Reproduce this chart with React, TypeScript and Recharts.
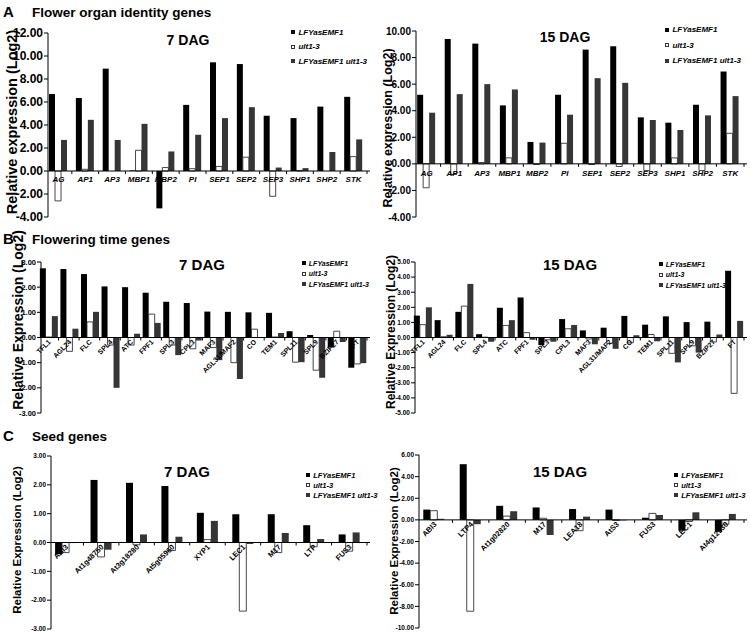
import React from 'react'
import { BarChart, Bar, XAxis, YAxis, ReferenceLine, Legend } from 'recharts'

const FONT = '"Liberation Sans", Arial, Helvetica, sans-serif'

// series
const SERIES = [
  { key: 'lfy', name: 'LFYasEMF1', fill: '#000000', stroke: 'none' },
  { key: 'ult', name: 'ult1-3', fill: '#ffffff', stroke: '#333333' },
  { key: 'dbl', name: 'LFYasEMF1 ult1-3', fill: '#363636', stroke: 'none' },
]

// A - flower organ identity genes
const flowerGenes = ['AG', 'AP1', 'AP3', 'MBP1', 'MBP2', 'PI', 'SEP1', 'SEP2', 'SEP3', 'SHP1', 'SHP2', 'STK']
const flower7Lfy = [6.7, 6.35, 8.9, 0.05, -3.25, 5.75, 9.45, 9.3, 4.8, 4.6, 5.6, 6.45]
const flower7Ult = [-2.6, 0.15, 0.0, 1.8, 0.3, 0.2, 0.4, 1.2, -2.2, 0.05, 0.0, 1.25]
const flower7Dbl = [2.7, 4.45, 2.7, 4.1, 1.7, 3.15, 4.6, 5.55, 0.3, 0.25, 1.65, 2.75]
const flower15Lfy = [5.2, 9.4, 9.05, 4.4, 1.65, 5.2, 8.6, 8.85, 3.5, 3.1, 4.45, 6.95]
const flower15Ult = [-1.8, -0.8, 0.1, 0.45, -0.05, 1.55, -0.05, -0.2, -0.5, 0.45, -0.5, 2.3]
const flower15Dbl = [3.85, 5.25, 6.0, 5.6, 1.6, 3.7, 6.45, 6.1, 3.3, 2.55, 3.65, 5.1]
const flower7Ticks = [-4, -2, 0, 2, 4, 6, 8, 10, 12]
const flower15Ticks = [-4, -2, 0, 2, 4, 6, 8, 10]

// B - flowering time genes
const timeGenes = ['TFL1', 'AGL24', 'FLC', 'SPL4', 'ATC', 'FPF1', 'SPL3', 'CPL3', 'MAF3', 'AGL31/MAF2', 'CO', 'TEM1', 'SPL11', 'SPL9', 'BZIP27', 'FT']
const time7Lfy = [2.75, 2.72, 2.52, 2.03, 2.0, 1.78, 1.42, 1.37, 1.03, 1.02, 1.0, 0.98, 0.25, 0.1, -0.4, -1.2]
const time7Ult = [0.02, -0.55, 0.62, -0.3, -0.3, 0.93, -0.3, -0.45, -0.4, -1.0, 0.33, 0.02, -0.98, -1.3, 0.25, -1.05]
const time7Dbl = [0.85, 0.35, 1.02, -2.0, 0.15, 0.58, -0.7, -0.12, -0.9, -1.65, -0.02, 0.18, -0.98, -1.6, -0.18, -1.02]
const time15Lfy = [1.45, 1.15, 1.7, 0.22, 1.97, 2.65, -0.5, 1.22, 0.47, 0.65, 1.43, 0.85, 1.4, 1.02, 1.05, 4.42]
const time15Ult = [0.85, 0.05, 2.08, 0.02, 0.8, 0.32, -0.15, 0.58, -0.1, -0.4, -0.35, 0.2, -1.05, -0.55, -0.3, -3.7]
const time15Dbl = [2.0, 0.18, 3.55, -0.28, 1.15, -0.15, -0.28, 0.83, -0.45, -0.75, 0.15, -0.25, -1.65, -1.0, 0.2, 1.1]
const time7Ticks = [-3, -2, -1, 0, 1, 2, 3]
const time15Ticks = [-5, -4, -3, -2, -1, 0, 1, 2, 3, 4, 5]

// C - seed genes
const seed7Genes = ['ABI3', 'At1g48750', 'At3g18280', 'At5g05960', 'XYP1', 'LEC1', 'M17', 'LTP', 'FUS3']
const seed7Lfy = [-0.4, 2.17, 2.07, 1.96, 1.03, 0.98, 0.98, 0.6, 0.28]
const seed7Ult = [-0.35, -0.5, -0.08, -0.28, 0.1, -2.38, -0.35, -0.15, -0.3]
const seed7Dbl = [-0.02, -0.25, 0.28, 0.2, 0.75, -0.05, 0.33, 0.12, 0.35]
const seed15Genes = ['ABI3', 'LTP4', 'At1g02820', 'M17', 'LEA18', 'AtS3', 'FUS3', 'LEC1', 'At4g12530']
const seed15Lfy = [0.95, 5.15, 1.3, 1.15, 1.0, 0.95, 0.2, -1.0, -1.1]
const seed15Ult = [0.85, -8.45, 0.35, 0.15, -1.0, -0.05, 0.6, -0.15, -0.4]
const seed15Dbl = [0.1, -0.4, 0.8, -1.4, 0.3, -0.05, 0.45, 0.7, 0.55]
const seed7Ticks = [-3, -2, -1, 0, 1, 2, 3]
const seed15Ticks = [-10, -8, -6, -4, -2, 0, 2, 4, 6]

const panels = [
  { id: 'a7', genes: flowerGenes, lfy: flower7Lfy, ult: flower7Ult, dbl: flower7Dbl, ticks: flower7Ticks,
    plot: { l: 48, r: 370, t: 33, b: 217 }, tickFont: 12, gap: '15%', labelFont: 8, rotate: false, labelDy: 11,
    legend: { x: 291, y: 25, row: 14.5, font: 8 } },
  { id: 'a15', genes: flowerGenes, lfy: flower15Lfy, ult: flower15Ult, dbl: flower15Dbl, ticks: flower15Ticks,
    plot: { l: 416, r: 747, t: 31, b: 217 }, tickFont: 10, gap: '15%', labelFont: 8, rotate: false, labelDy: 12,
    legend: { x: 665, y: 22, row: 15.5, font: 8 } },
  { id: 'b7', genes: timeGenes, lfy: time7Lfy, ult: time7Ult, dbl: time7Dbl, ticks: time7Ticks,
    plot: { l: 41, r: 370, t: 262, b: 413 }, tickFont: 7.5, gap: '9%', labelFont: 7, rotate: true, labelDy: 5,
    legend: { x: 302, y: 258, row: 10.5, font: 7 } },
  { id: 'b15', genes: timeGenes, lfy: time15Lfy, ult: time15Ult, dbl: time15Dbl, ticks: time15Ticks,
    plot: { l: 415, r: 747, t: 262, b: 413 }, tickFont: 6.5, gap: '9%', labelFont: 7, rotate: true, labelDy: 5,
    legend: { x: 659, y: 259, row: 10.5, font: 7 } },
  { id: 'c7', genes: seed7Genes, lfy: seed7Lfy, ult: seed7Ult, dbl: seed7Dbl, ticks: seed7Ticks,
    plot: { l: 51, r: 370, t: 456, b: 629 }, tickFont: 6.5, gap: '20%', labelFont: 7.5, rotate: true, labelDy: 5,
    legend: { x: 306, y: 470, row: 10, font: 7.5 } },
  { id: 'c15', genes: seed15Genes, lfy: seed15Lfy, ult: seed15Ult, dbl: seed15Dbl, ticks: seed15Ticks,
    plot: { l: 419, r: 747, t: 455, b: 628 }, tickFont: 6.5, gap: '20%', labelFont: 7.5, rotate: true, labelDy: 5,
    legend: { x: 674, y: 470, row: 10, font: 7.5 } },
]

const texts = [
  { x: 3, y: 17, size: 15, text: 'A' },
  { x: 32, y: 17, size: 13.5, text: 'Flower organ identity genes' },
  { x: 3, y: 244, size: 15, text: 'B' },
  { x: 32, y: 244, size: 13.5, text: 'Flowering time genes' },
  { x: 3, y: 441, size: 15, text: 'C' },
  { x: 32, y: 441, size: 13.5, text: 'Seed genes' },
  { x: 188, y: 45, size: 14, text: '7 DAG', mid: true },
  { x: 565, y: 42, size: 14, text: '15 DAG', mid: true },
  { x: 202, y: 270, size: 15, text: '7 DAG', mid: true },
  { x: 570, y: 270, size: 15, text: '15 DAG', mid: true },
  { x: 187, y: 477, size: 15, text: '7 DAG', mid: true },
  { x: 560, y: 477, size: 15, text: '15 DAG', mid: true },
]

const yTitles = [
  { x: 12, y: 122, size: 14.5, text: 'Relative expression (Log2)' },
  { x: 388, y: 128, size: 12.5, text: 'Relative expression (Log2)' },
  { x: 18, y: 320, size: 14, text: 'Relative Expression (Log2)' },
  { x: 391, y: 332, size: 12, text: 'Relative Expression (Log2)' },
  { x: 17, y: 540, size: 11.5, text: 'Relative Expression (Log2)' },
  { x: 394, y: 541, size: 11.5, text: 'Relative Expression (Log2)' },
]

const GeneTick = (props: any) => {
  const { x, payload, zeroY, rotate, font, dy, band } = props
  const mark = <line x1={x + band / 2} x2={x + band / 2} y1={zeroY} y2={zeroY + 3} stroke="#000" strokeWidth={1} />
  if (!rotate) {
    return (
      <g>
        {mark}
        <text x={x} y={zeroY + dy} textAnchor="middle" fontSize={font} fontWeight="bold"
          fontStyle="italic" fontFamily={FONT} fill="#000">{payload.value}</text>
      </g>
    )
  }
  const tx = x + 3
  const ty = zeroY + dy
  return (
    <g>
      {mark}
      <text x={tx} y={ty} transform={`rotate(-45 ${tx} ${ty})`} textAnchor="end" fontSize={font}
        fontWeight="bold" fontFamily={FONT} fill="#000">{payload.value}</text>
    </g>
  )
}

const makeLegend = (lg: any) => (props: any) => {
  const items = [...(props.payload || [])].sort(
    (a: any, b: any) => SERIES.findIndex(s => s.name === a.value) - SERIES.findIndex(s => s.name === b.value))
  return (
    <div style={{ fontFamily: FONT, fontSize: lg.font, fontWeight: 'bold', fontStyle: 'italic', whiteSpace: 'nowrap' }}>
      {items.map((it: any) => {
        const s = SERIES.find(q => q.name === it.value) || SERIES[0]
        return (
          <div key={it.value} style={{ height: lg.row, display: 'flex', alignItems: 'center' }}>
            <span style={{ display: 'inline-block', width: lg.font * 0.55, height: lg.font * 0.55, boxSizing: 'border-box',
              background: s.fill, border: s.key === 'ult' ? '1px solid #333' : 'none', marginRight: 3 }} />
            {it.value}
          </div>
        )
      })}
    </div>
  )
}

const Panel = ({ cfg }: { cfg: any }) => {
  const data = cfg.genes.map((g: string, i: number) => ({ gene: g, lfy: cfg.lfy[i], ult: cfg.ult[i], dbl: cfg.dbl[i] }))
  const yW = 40, mTop = 10, xH = 10
  const left = cfg.plot.l - yW
  const top = cfg.plot.t - mTop
  const width = cfg.plot.r - left + 2
  const height = cfg.plot.b - top + xH
  const min = cfg.ticks[0]
  const max = cfg.ticks[cfg.ticks.length - 1]
  const zeroY = mTop + (cfg.plot.b - cfg.plot.t) * max / (max - min)
  const band = (cfg.plot.r - cfg.plot.l) / cfg.genes.length
  return (
    <div style={{ position: 'absolute', left, top }}>
      <BarChart width={width} height={height} data={data} barGap={0} barCategoryGap={cfg.gap}
        margin={{ top: mTop, right: 2, bottom: 0, left: 0 }}>
        <XAxis dataKey="gene" height={xH} axisLine={false} tickLine={false} interval={0}
          padding={{ left: -3, right: 3 }}
          tick={(p: any) => <GeneTick {...p} zeroY={zeroY} rotate={cfg.rotate} font={cfg.labelFont}
            dy={cfg.labelDy} band={band} />} />
        <YAxis width={yW} domain={[min, max]} ticks={cfg.ticks} interval={0} allowDataOverflow
          tickFormatter={(v: number) => v.toFixed(2)} axisLine={{ stroke: '#000' }} tickLine={{ stroke: '#000' }}
          tickSize={4} tickMargin={1}
          tick={{ fontSize: cfg.tickFont, fontWeight: 'bold', fill: '#000', fontFamily: FONT }} />
        <ReferenceLine y={0} stroke="#000" strokeWidth={1} />
        {SERIES.map(s => (
          <Bar key={s.key} dataKey={s.key} name={s.name} fill={s.fill} stroke={s.stroke}
            strokeWidth={s.key === 'ult' ? 0.9 : 0} isAnimationActive={false} />
        ))}
        <Legend layout="vertical" align="center" verticalAlign="middle" content={makeLegend(cfg.legend)}
          wrapperStyle={{ left: cfg.legend.x - left, top: cfg.legend.y - top, width: 'auto' }} />
      </BarChart>
    </div>
  )
}

export default function App() {
  return (
    <div style={{ position: 'absolute', left: 0, top: 0, width: 750, height: 632, background: '#fff', overflow: 'hidden' }}>
      {panels.map(p => <Panel key={p.id} cfg={p} />)}
      <svg width={750} height={632} style={{ position: 'absolute', left: 0, top: 0, pointerEvents: 'none' }}>
        {texts.map((t, i) => (
          <text key={i} x={t.x} y={t.y} fontSize={t.size} fontWeight="bold" fontFamily={FONT}
            textAnchor={t.mid ? 'middle' : 'start'} fill="#000">{t.text}</text>
        ))}
        {yTitles.map((t, i) => (
          <text key={'y' + i} transform={`translate(${t.x} ${t.y}) rotate(-90)`} fontSize={t.size} fontWeight="bold"
            fontFamily={FONT} textAnchor="middle" dominantBaseline="central" fill="#000">{t.text}</text>
        ))}
      </svg>
    </div>
  )
}
